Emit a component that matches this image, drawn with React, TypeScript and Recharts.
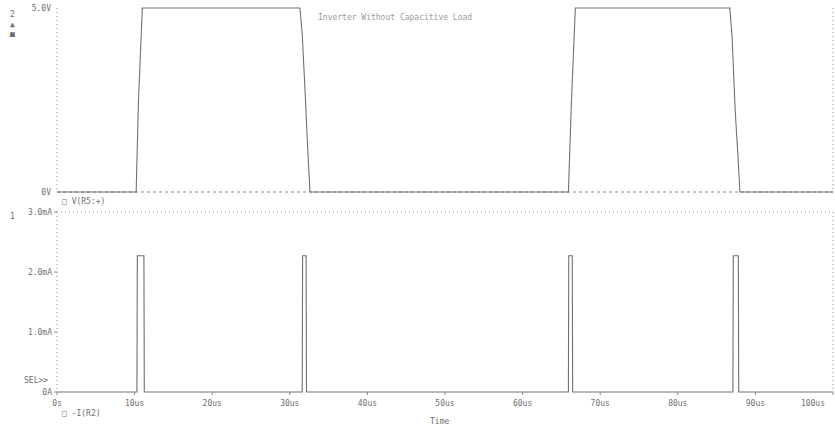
import React from 'react';
import { LineChart, Line, XAxis, YAxis, ReferenceLine } from 'recharts';

// time in microseconds
const voltTime = [0, 10.2, 10.5, 11.0, 31.3, 31.6, 32.0, 32.3, 32.6, 65.9, 66.3, 66.8, 86.7, 87.0, 87.4, 87.8, 88.0, 100];
const voltValues = [0, 0, 2.5, 5.0, 5.0, 4.3, 2.6, 1.2, 0, 0, 2.5, 5.0, 5.0, 4.2, 2.2, 0.8, 0, 0];

const currTime = [0, 10.3, 10.35, 11.2, 11.25, 31.6, 31.65, 32.1, 32.15, 65.9, 65.95, 66.4, 66.45, 87.1, 87.15, 87.8, 87.85, 100];
const currValues = [0, 0, 2.27, 2.27, 0, 0, 2.27, 2.27, 0, 0, 2.27, 2.27, 0, 0, 2.27, 2.27, 0, 0];

const xTicks = [0, 10, 20, 30, 40, 50, 60, 70, 80, 90, 100];
const xTickLabels = ['0s', '10us', '20us', '30us', '40us', '50us', '60us', '70us', '80us', '90us', '100us'];
const vTicks = [0, 5];
const vTickLabels = ['0V', '5.0V'];
const iTicks = [0, 1, 2, 3];
const iTickLabels = ['0A', '1.0mA', '2.0mA', '3.0mA'];

const voltData = voltTime.map((t, i) => ({ t, v: voltValues[i] }));
const currData = currTime.map((t, i) => ({ t, i: currValues[i] }));

const FONT = '"DejaVu Sans Mono", monospace';
const TXT = '#6f6f6f';
const LINE = '#707070';
const DOT = '#8a8a8a';

const XTick = (props: any) => {
  const { x, y, payload } = props;
  const last = payload.value === 100;
  return (
    <text
      x={x}
      y={y + 9}
      textAnchor={last ? 'end' : 'middle'}
      dx={last ? 2 : 0}
      fill={TXT}
      fontSize={8}
      fontFamily={FONT}
    >
      {xTickLabels[xTicks.indexOf(payload.value)]}
    </text>
  );
};

export default function App() {
  return (
    <div style={{ position: 'absolute', left: 0, top: 0, width: 835, height: 430, background: '#fff', fontFamily: FONT }}>
      <div style={{ position: 'absolute', left: 0, top: 0 }}>
        <LineChart width={835} height={200} data={voltData} margin={{ top: 8, right: 0, bottom: 8, left: 0 }}>
          <XAxis dataKey="t" type="number" domain={[0, 100]} hide />
          <YAxis
            type="number"
            domain={[0, 5]}
            ticks={vTicks}
            width={57}
            tickFormatter={(v: number) => vTickLabels[vTicks.indexOf(v)]}
            tick={{ fill: TXT, fontSize: 8, fontFamily: FONT }}
            axisLine={{ stroke: DOT, strokeDasharray: '1 3' }}
            tickLine={false}
            tickSize={4}
          />
          <YAxis yAxisId="r" orientation="right" width={2} tick={false} tickLine={false} axisLine={{ stroke: DOT, strokeDasharray: '1 3' }} />
          <ReferenceLine y={0} stroke={DOT} strokeDasharray="3 3" />
          <Line dataKey="v" type="linear" stroke={LINE} strokeWidth={1.1} dot={false} isAnimationActive={false} />
        </LineChart>
      </div>
      <div style={{ position: 'absolute', left: 0, top: 200 }}>
        <LineChart width={835} height={230} data={currData} margin={{ top: 12, right: 0, bottom: 0, left: 0 }}>
          <XAxis
            dataKey="t"
            type="number"
            domain={[0, 100]}
            ticks={xTicks}
            height={38}
            tick={<XTick />}
            axisLine={false}
            tickLine={{ stroke: DOT }}
            tickSize={3}
          />
          <YAxis
            type="number"
            domain={[0, 3]}
            ticks={iTicks}
            width={57}
            tickFormatter={(v: number) => iTickLabels[iTicks.indexOf(v)]}
            tick={{ fill: TXT, fontSize: 8, fontFamily: FONT }}
            axisLine={{ stroke: DOT, strokeDasharray: '1 3' }}
            tickLine={{ stroke: DOT }}
            tickSize={3}
          />
          <YAxis yAxisId="r" orientation="right" width={2} tick={false} tickLine={false} axisLine={{ stroke: DOT, strokeDasharray: '1 3' }} />
          <ReferenceLine y={3} stroke={DOT} strokeDasharray="1 3" />
          <Line dataKey="i" type="linear" stroke={LINE} strokeWidth={1.1} dot={false} isAnimationActive={false} />
        </LineChart>
      </div>
      <div style={{ position: 'absolute', left: 318, top: 13, fontSize: 8, color: '#9a9a9a', whiteSpace: 'nowrap' }}>
        Inverter Without Capacitive Load
      </div>
      <div style={{ position: 'absolute', left: 62, top: 197, fontSize: 8, color: TXT, whiteSpace: 'nowrap' }}>
        □ V(R5:+)
      </div>
      <div style={{ position: 'absolute', left: 62, top: 409, fontSize: 8, color: TXT, whiteSpace: 'nowrap' }}>
        □ -I(R2)
      </div>
      <div style={{ position: 'absolute', left: 24, top: 376, fontSize: 8, color: TXT, whiteSpace: 'nowrap' }}>
        SEL&gt;&gt;
      </div>
      <div style={{ position: 'absolute', left: 10, top: 10, fontSize: 8, color: TXT, lineHeight: '10px' }}>
        2<br />▲<br />■
      </div>
      <div style={{ position: 'absolute', left: 10, top: 212, fontSize: 8, color: TXT }}>
        1
      </div>
      <div style={{ position: 'absolute', left: 430, top: 417, fontSize: 8, color: TXT }}>
        Time
      </div>
    </div>
  );
}
